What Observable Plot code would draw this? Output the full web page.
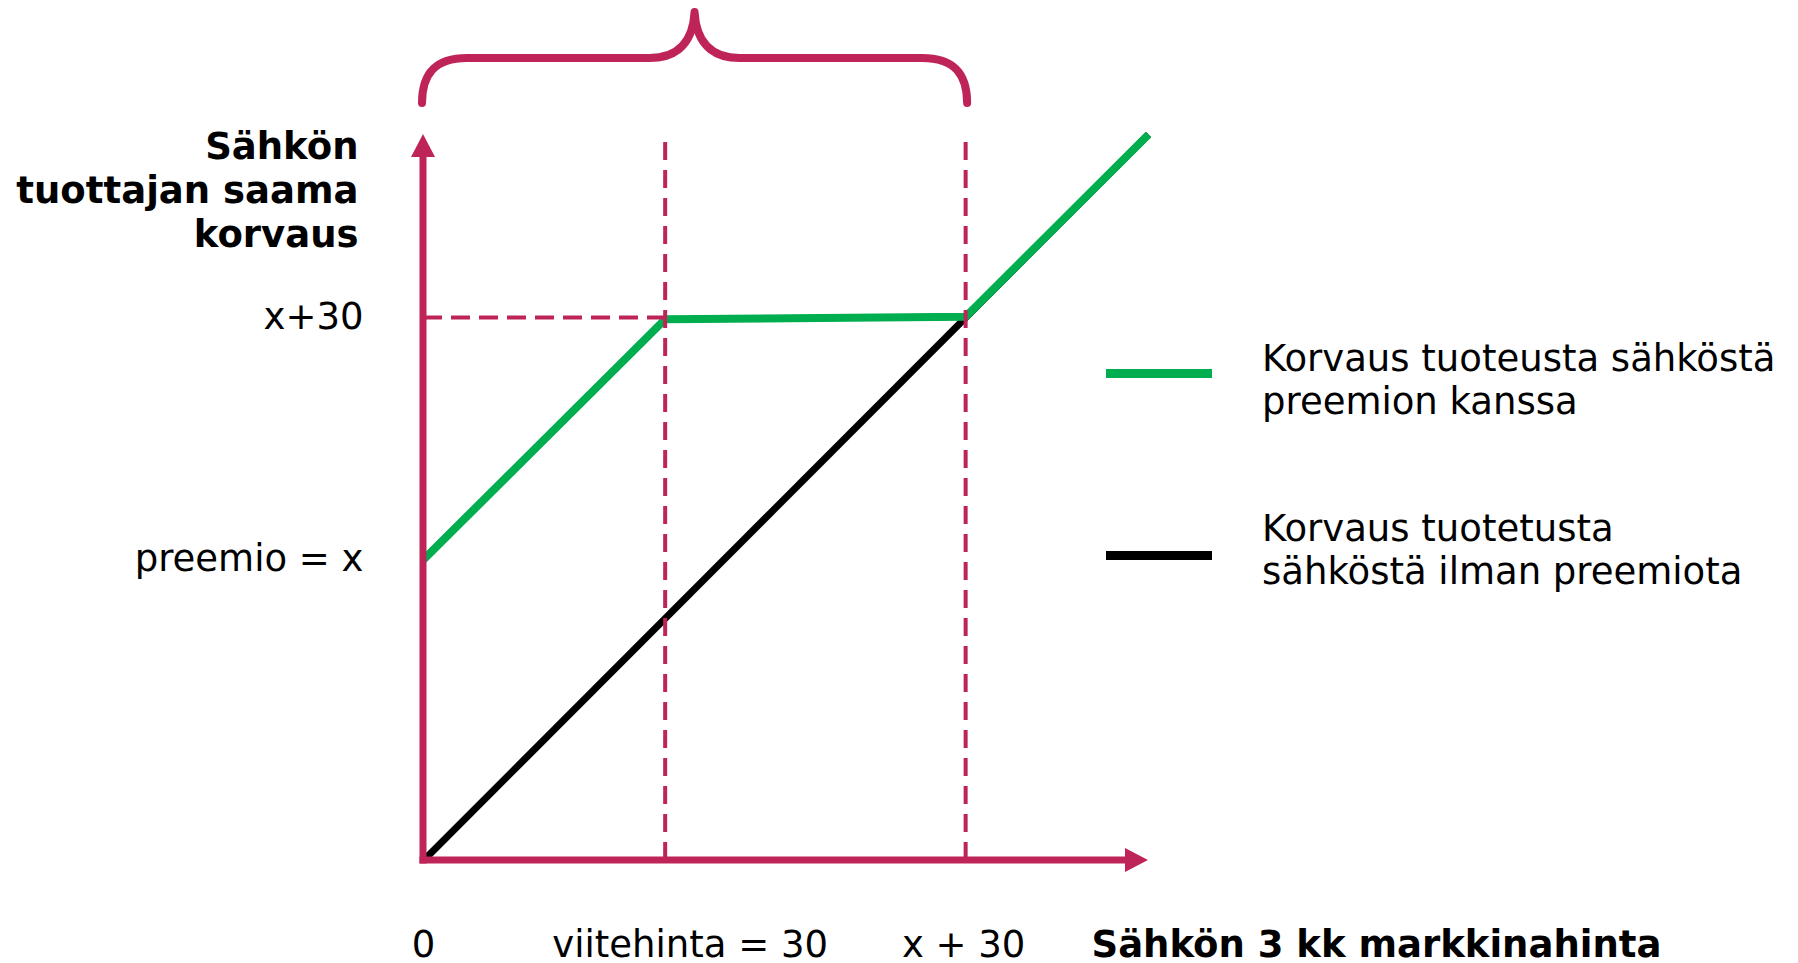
<!DOCTYPE html>
<html>
<head>
<meta charset="utf-8">
<script src="https://cdn.jsdelivr.net/npm/d3@7"></script>
<script src="https://cdn.jsdelivr.net/npm/@observablehq/plot@0.6"></script>
<style>
  html, body { margin: 0; padding: 0; background: #fff; overflow: hidden; }
  #wrap { position: relative; width: 1798px; height: 963px; font-family: "DejaVu Sans", Verdana, sans-serif; }
  #chart svg { display: block; }
  .lg-swatch { position: absolute; left: 1106px; width: 106px; height: 9px; }
  .lg-text { position: absolute; left: 1262px; font-size: 37px; line-height: 43.5px; color: #000; white-space: pre; }
</style>
</head>
<body>
<div id="wrap">
  <div id="chart"></div>
  <div id="legend"></div>
</div>
<script>
// ---- data ----
const greenX = [0, 30, 67.3, 90];
const greenY = [37.3, 67.1, 67.4, 90];
const blackX = [0, 90];
const blackY = [0, 90];
const guideX = [30, 67.3];          // viitehinta, x + 30
const guideY = [67.3];              // x + 30
const xTickValues = [0, 30, 67.3];
const xTickLabels = ["0", "viitehinta = 30", "x + 30"];
const yTickValues = [37.3, 67.3];
const yTickLabels = ["preemio = x", "x+30"];
const yTitle = "Sähkön\ntuottajan saama\nkorvaus";
const xTitle = "Sähkön 3 kk markkinahinta";
const braceRange = [0, 67.3];
const legendLabels = ["Korvaus tuoteusta sähköstä\npreemion kanssa", "Korvaus tuotetusta\nsähköstä ilman preemiota"];

// ---- styles ----
const MAG = "#BF2459";
const GREEN = "#00AE4F";
const BLACK = "#000000";
const xTickDx = [0, 25, -2];

const green = d3.zip(greenX, greenY);
const black = d3.zip(blackX, blackY);

// axes with filled arrowheads
function axesMark(index, scales) {
  const x = scales.x, y = scales.y;
  const x0 = x(0), y0 = y(0), xe = x(90), ye = y(90);
  const g = d3.create("svg:g");
  const sw = 7, hl = 23, hw = 12;
  g.append("line").attr("x1", x0 - sw / 2).attr("x2", xe - hl + 1).attr("y1", y0).attr("y2", y0)
    .attr("stroke", MAG).attr("stroke-width", sw);
  g.append("line").attr("x1", x0).attr("x2", x0).attr("y1", y0 + sw / 2).attr("y2", ye + hl - 1)
    .attr("stroke", MAG).attr("stroke-width", sw);
  g.append("path").attr("d", `M${xe},${y0} L${xe - hl},${y0 - hw} L${xe - hl},${y0 + hw} Z`).attr("fill", MAG);
  g.append("path").attr("d", `M${x0},${ye} L${x0 - hw},${ye + hl} L${x0 + hw},${ye + hl} Z`).attr("fill", MAG);
  return g.node();
}

// curly brace above the plot spanning braceRange
function braceMark(index, scales) {
  const x = scales.x, y = scales.y;
  const a = x(braceRange[0]) - 1, b = x(braceRange[1]) + 2, c = (a + b) / 2;
  const top = y(90);
  const yEnd = top - 31, yh = top - 76, yTip = top - 122;
  const d = `M${a},${yEnd} C${a},${yh + 17} ${a + 12},${yh} ${a + 45},${yh} L${c - 45},${yh} ` +
            `C${c - 25},${yh} ${c - 2},${yh - 8} ${c},${yTip} ` +
            `C${c + 2},${yh - 8} ${c + 25},${yh} ${c + 45},${yh} L${b - 45},${yh} ` +
            `C${b - 12},${yh} ${b},${yh + 17} ${b},${yEnd}`;
  return d3.create("svg:path").attr("d", d).attr("fill", "none").attr("stroke", MAG)
    .attr("stroke-width", 8).attr("stroke-linecap", "round").attr("stroke-linejoin", "round").node();
}

const marks = [
  Plot.line(black, {x: d => d[0], y: d => d[1], stroke: BLACK, strokeWidth: 7, strokeLinecap: "butt"}),
  Plot.line(green, {x: d => d[0], y: d => d[1], stroke: GREEN, strokeWidth: 8, strokeLinejoin: "miter", strokeLinecap: "butt"}),
  Plot.ruleX(guideX, {x: d => d, y1: 89, y2: 0, stroke: MAG, strokeWidth: 4, strokeDasharray: "18,10"}),
  Plot.ruleY(guideY, {y: d => d, x1: 0, x2: 30, stroke: MAG, strokeWidth: 4, strokeDasharray: "19,9"}),
  axesMark,
  braceMark,
  Plot.text(yTickValues, {x: 0, y: d => d, text: (d, i) => yTickLabels[i], textAnchor: "end", lineAnchor: "bottom", dx: -60, dy: 11, fill: "#000"}),
  Plot.text([yTitle], {x: 0, y: 90, text: d => d, textAnchor: "end", lineAnchor: "top", lineHeight: 1.19, dx: -65, dy: -7, fontWeight: "bold", fill: "#000"}),
  Plot.text([xTitle], {x: 90, y: 0, text: d => d, textAnchor: "start", lineAnchor: "bottom", dx: -57, dy: 96, fontWeight: "bold", fill: "#000"})
];
xTickValues.forEach((v, i) => {
  marks.push(Plot.text([v], {x: d => d, y: 0, text: () => xTickLabels[i], textAnchor: "middle", lineAnchor: "bottom", dx: xTickDx[i], dy: 96, fill: "#000"}));
});

const chart = Plot.plot({
  width: 1798,
  height: 963,
  marginLeft: 423,
  marginRight: 650,
  marginTop: 134,
  marginBottom: 103,
  x: {domain: [0, 90], axis: null},
  y: {domain: [0, 90], axis: null},
  style: {fontFamily: "DejaVu Sans, Verdana, sans-serif", fontSize: "37px", background: "#fff", overflow: "visible"},
  marks
});
document.getElementById("chart").appendChild(chart);

// legend (HTML overlay to the right of the plot)
const legend = document.getElementById("legend");
const legendColors = [GREEN, BLACK];
const swatchTops = [369, 551];
const textTops = [336.5, 506.5];
legendLabels.forEach((lab, i) => {
  const s = document.createElement("div");
  s.className = "lg-swatch";
  s.style.top = swatchTops[i] + "px";
  s.style.background = legendColors[i];
  legend.appendChild(s);
  const t = document.createElement("div");
  t.className = "lg-text";
  t.style.top = textTops[i] + "px";
  t.textContent = lab;
  legend.appendChild(t);
});
</script>
</body>
</html>
